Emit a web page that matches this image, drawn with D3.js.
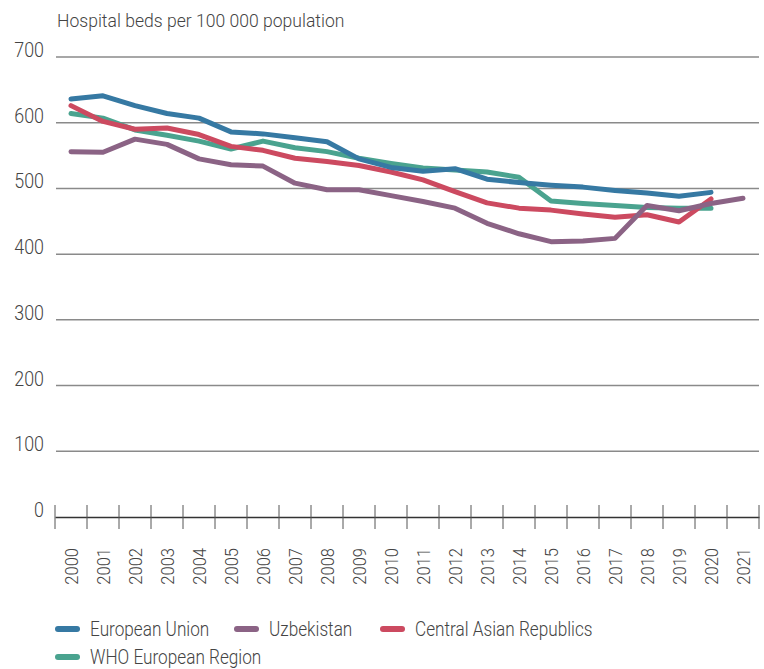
<!DOCTYPE html>
<html><head><meta charset="utf-8">
<script src="https://cdn.jsdelivr.net/npm/d3@7"></script>
<style>body{margin:0;background:#fff}text{font-family:Roboto,"Liberation Sans",sans-serif;font-weight:300;fill:#444}</style>
</head><body><svg id="c" width="764" height="669"></svg>
<script>
const years = ["2000","2001","2002","2003","2004","2005","2006","2007","2008","2009","2010","2011","2012","2013","2014","2015","2016","2017","2018","2019","2020","2021"];
const yTicks = [0,100,200,300,400,500,600,700];
const euValues  = [636,641,626,614,607,586,583,577,571,545,532,526,530,514,509,505,502,497,493,488,494,null];
const uzbValues = [556,555,575,567,545,536,534,508,498,498,489,480,470,447,431,419,420,424,474,466,477,485];
const carValues = [626,602,590,592,582,564,558,546,541,535,525,513,495,478,470,467,461,456,460,449,484,null];
const whoValues = [614,607,589,581,572,560,572,562,556,546,538,531,528,525,517,481,477,474,471,470,470,null];
const seriesNames = ["European Union","Uzbekistan","Central Asian Republics","WHO European Region"];
const colors = ["#3679a3","#8b6385","#cc4a60","#4aa38f"];
const seriesVals = [euValues, uzbValues, carValues, whoValues];

const svg = d3.select("#c");
const x = d3.scaleBand().domain(years).range([55, 759]);
const y = d3.scaleLinear().domain([0,700]).range([517, 57]);
const cond = 0.87;

// title
svg.append("text").attr("transform","translate(57,27) scale(0.95,1)")
  .attr("font-size",18.5).text("Hospital beds per 100 000 population");

// grid
svg.append("g").selectAll("line").data(yTicks.filter(d=>d>0)).join("line")
  .attr("x1",56).attr("x2",759).attr("y1",d=>y(d)).attr("y2",d=>y(d))
  .attr("stroke","#8a8a8a").attr("stroke-width",1.5);

// y labels
svg.append("g").selectAll("text").data(yTicks).join("text")
  .attr("transform",d=>`translate(44,${y(d)}) scale(${cond},1)`)
  .attr("text-anchor","end").attr("font-size",20.5).text(d=>d);

// x axis
const xAxis = d3.axisBottom(x).tickSize(0).tickFormat("");
const gx = svg.append("g").attr("transform",`translate(0,${y(0)})`).call(xAxis);
gx.select(".domain").attr("stroke","#333").attr("stroke-width",1.5);
const bounds = years.map(d=>x(d)).concat([x.range()[1]]);
svg.append("g").selectAll("line").data(bounds).join("line")
  .attr("x1",d=>d).attr("x2",d=>d).attr("y1",y(0)-12).attr("y2",y(0)+12)
  .attr("stroke","#555").attr("stroke-width",1);
svg.append("g").selectAll("text").data(years).join("text")
  .attr("transform",d=>`translate(${x(d)+x.bandwidth()/2},548) rotate(-90) scale(${cond},1)`)
  .attr("text-anchor","end").attr("dy","0.36em").attr("font-size",19).text(d=>d);

// lines
const line = d3.line().defined(d=>d!=null).x((d,i)=>x(years[i])+x.bandwidth()/2).y(d=>y(d));
const order = [3,2,1,0];
svg.append("g").selectAll("path").data(order).join("path")
  .attr("d",i=>line(seriesVals[i])).attr("fill","none").attr("stroke",i=>colors[i])
  .attr("stroke-width",5).attr("stroke-linejoin","round").attr("stroke-linecap","round");

// legend
const legPos = [[55,629],[234,629],[380,629],[55,657]];
const lg = svg.append("g").selectAll("g").data(seriesNames).join("g")
  .attr("transform",(d,i)=>`translate(${legPos[i][0]},${legPos[i][1]})`);
lg.append("line").attr("x1",3).attr("x2",22).attr("stroke",(d,i)=>colors[i])
  .attr("stroke-width",6).attr("stroke-linecap","round");
lg.append("text").attr("transform",`translate(35,0) scale(0.86,1)`).attr("dy","0.36em")
  .attr("font-size",20).text(d=>d);
</script></body></html>
